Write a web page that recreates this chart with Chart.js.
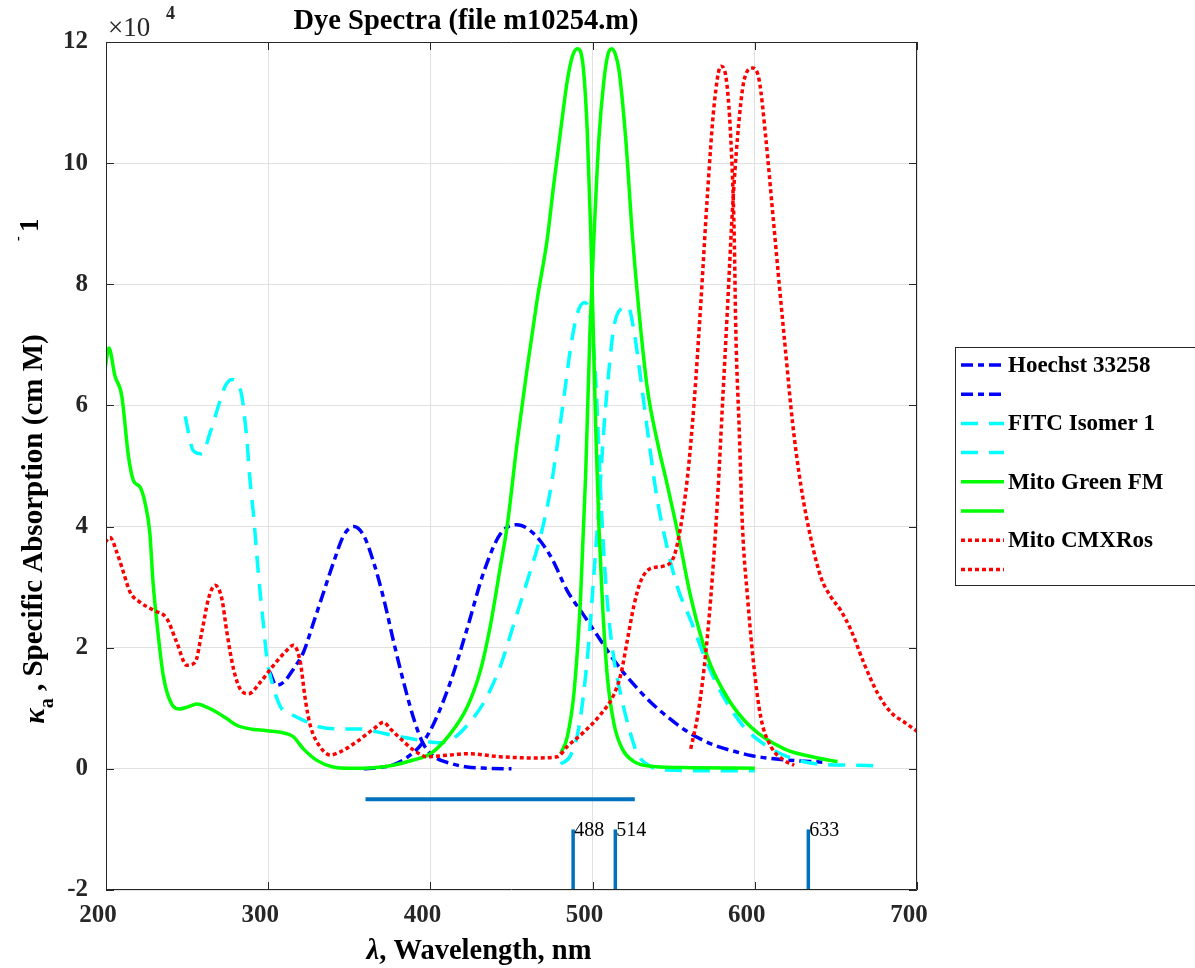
<!DOCTYPE html>
<html>
<head>
<meta charset="utf-8">
<script src="https://cdn.jsdelivr.net/npm/chart.js@4.4.1/dist/chart.umd.min.js"></script>
<style>
html,body{margin:0;padding:0;background:#fff;}
#wrap{position:relative;width:1195px;height:968px;}
canvas{display:block;}
</style>
</head>
<body>
<div id="wrap"><canvas id="c" width="1195" height="968"></canvas></div>
<script>
// ---- Data (wavelength in nm, absorption in units of 1e4 (cm M)^-1) ----
const hoechstAbsWl = [301,305,309.5,315.6,321.8,328,334.2,340.3,346.5,352.7,358.9,365,371.2,377.4,383.5,389.7,394.9,399,404.1,412.3,422.6,435,450];
const hoechstAbsK  = [1.60,1.38,1.43,1.65,1.93,2.42,2.92,3.41,3.85,4.0,3.85,3.41,2.81,2.09,1.43,0.83,0.45,0.28,0.17,0.09,0.03,0.01,0.0];
const hoechstEmWl  = [358.9,368,377.4,387.7,394.9,402.1,412.3,422.6,432.9,443.2,453.5,463.8,474.1,484.4,494.7,505,515.2,525.5,535.8,546.1,556.4,566.7,577,587.3,597.6,618.1,641.8];
const hoechstEmK   = [0.0,0.02,0.07,0.23,0.42,0.75,1.43,2.31,3.25,3.88,4.03,3.88,3.51,2.94,2.53,2.12,1.72,1.39,1.10,0.86,0.65,0.49,0.37,0.29,0.22,0.15,0.11];

const fitcAbsWl = [248.8,253.9,259,264.2,269.3,273.5,277.6,280.7,283.7,286.8,288.9,291,293,295,297.1,299.2,302.3,305.4,308.4,313.6,321.8,332.1,344.4,356.8,367.1,377.4,387.7,397.9,406,414,422.7,433,443.2,451.5,459.7,467.9,474,478.5,482.3,486.4,490.6,495.1,498.8,501.9,503.9,506,509,513.2,517.3,523.5,527.6,535.8,545,570,600];
const fitcAbsK  = [5.82,5.25,5.2,5.55,5.99,6.32,6.43,6.38,6.16,5.45,4.73,4.18,3.52,2.92,2.37,1.82,1.43,1.16,0.99,0.91,0.80,0.69,0.66,0.66,0.61,0.55,0.50,0.45,0.43,0.50,0.72,1.10,1.70,2.40,3.10,3.84,4.60,5.40,6.13,6.94,7.52,7.70,7.43,6.45,5.23,4.0,2.78,1.80,1.23,0.57,0.25,0.04,-0.02,-0.03,-0.03];
const fitcEmWl  = [480.3,486.4,491.6,496.7,500.9,503.9,507,510.1,513.2,517.3,521.8,525.5,529.7,534.8,539.9,546.1,552.3,560.5,570.8,581.1,593.4,607.8,622.2,638.7,659.3,675.7];
const fitcEmK   = [0.08,0.22,0.69,1.81,3.24,4.36,5.63,6.59,7.31,7.59,7.63,7.23,6.43,5.39,4.44,3.64,3.0,2.45,1.73,1.17,0.69,0.37,0.18,0.08,0.06,0.05];

const greenAbsWl = [199.4,201.8,205.5,209.7,213.8,216.9,221,224,227,229,232,235.3,240.5,245.6,250,255.9,262,268,274.4,280.6,288.8,299,311.4,315.5,321.7,330,340,350,365,377,390,400,412,422.7,430.9,437,443.2,447.3,453.5,459.7,465.9,472,476,480.3,484.4,487.5,490.6,493.6,496.7,498.8,500.4,501.9,503.9,506,509,513.2,518.3,525.5,537.9,560,600];
const greenAbsK  = [6.6,6.95,6.49,6.16,5.17,4.76,4.65,4.4,3.9,3.08,2.26,1.54,1.07,0.99,1.02,1.07,1.02,0.94,0.83,0.72,0.66,0.63,0.58,0.53,0.33,0.14,0.03,0.01,0.02,0.06,0.15,0.25,0.57,1.02,1.63,2.37,3.35,4.0,5.39,6.62,7.76,8.74,9.64,10.54,11.36,11.76,11.89,11.72,10.54,8.9,7.27,5.64,4.0,2.78,1.55,0.74,0.33,0.12,0.04,0.02,0.01];
const greenEmWl  = [480.3,484.4,488.5,492.6,495.7,498.4,500.9,503.9,507,509.5,511.8,514,516.3,520.4,524.5,528.6,533.8,540,546.1,553.3,560.5,570.8,583.2,597.6,618.1,638.7,651];
const greenEmK   = [0.25,0.53,1.25,2.84,4.84,7.23,8.82,10.41,11.37,11.8,11.89,11.8,11.53,10.41,8.82,7.55,6.27,5.39,4.68,3.80,2.84,1.85,1.17,0.69,0.33,0.18,0.12];

const rosAbsWl = [199.4,202.5,206.6,210.7,214.8,221,229.2,237.5,243.6,249.8,255,259.1,263.2,267.3,271.4,274.5,278.6,282.7,287.9,295.1,303.3,310.5,315.6,319.8,322.8,325.9,332.1,338.3,344.4,354.7,365,371.2,375.3,381.5,389.7,397.9,412.3,422.6,443.2,463.8,478.2,484.4,494.7,505,513.2,517.3,521.4,525.5,529.7,535.8,544.1,550.2,554.3,558.5,562.6,566.7,570.8,574.9,579.1,582.1,585.2,587.3,588.3,590.4,592.4,595.5,599.6,603.7,609.9,618.1,624.3];
const rosAbsK  = [3.74,3.82,3.58,3.25,2.92,2.75,2.62,2.48,2.09,1.71,1.76,2.26,2.81,3.03,2.81,2.26,1.65,1.32,1.24,1.43,1.71,1.93,2.04,1.76,1.16,0.72,0.36,0.23,0.28,0.45,0.66,0.77,0.66,0.5,0.31,0.20,0.23,0.25,0.20,0.18,0.20,0.37,0.61,0.9,1.23,1.55,2.12,2.70,3.10,3.31,3.35,3.51,4.0,4.82,6.05,7.68,9.48,10.95,11.6,11.44,10.4,8.82,7.23,5.6,4.0,2.84,1.65,0.85,0.37,0.14,0.06];
const rosEmWl  = [560.5,564.6,568.7,572.9,577,580.1,583.2,586.2,589.3,593.4,598.6,602.7,606.8,610.9,615,619.2,623.3,628.4,634.6,640.8,646.9,653.1,659.3,667.5,675.7,684,692.2,700.4,705];
const rosEmK   = [0.33,0.85,1.65,2.84,4.44,6.03,7.63,9.22,10.41,11.37,11.57,11.37,10.41,9.22,8.02,6.83,5.71,4.68,3.80,3.16,2.84,2.61,2.29,1.73,1.25,0.93,0.77,0.61,0.5];

const dyeNames   = ["Hoechst 33258", "FITC Isomer 1", "Mito Green FM", "Mito CMXRos"];
const bandWl     = [360, 526];   // excitation band bar
const bandLevel  = -0.5;
const laserWl    = [488, 514, 633];
const laserRange = [-2, -1];
const xTicks = [200, 300, 400, 500, 600, 700];
const yTicks = [-2, 0, 2, 4, 6, 8, 10, 12];

// ---- Styles ----
const SERIF = '"Liberation Serif", "Times New Roman", serif';
const dyeColors = ["#0000ff", "#00ffff", "#00ff00", "#ff0000"];
const dyeDash   = [[12,5,6,5], [17,11], [], [4,3]];
const LW = 3.5;
const BAR_COLOR = "#0072bd";

function pts(xs, ys){ return xs.map((v,i)=>({x:v, y:ys[i]})); }

const curves = [
  [hoechstAbsWl, hoechstAbsK], [hoechstEmWl, hoechstEmK],
  [fitcAbsWl, fitcAbsK], [fitcEmWl, fitcEmK],
  [greenAbsWl, greenAbsK], [greenEmWl, greenEmK],
  [rosAbsWl, rosAbsK], [rosEmWl, rosEmK]
];
const datasets = curves.map((c, i) => {
  const d = Math.floor(i/2);
  return {
    label: (i % 2 === 0) ? dyeNames[d] : "",
    data: pts(c[0], c[1]),
    borderColor: dyeColors[d],
    borderWidth: LW,
    borderDash: dyeDash[d],
    borderCapStyle: 'butt',
    pointRadius: 0,
    fill: false,
    cubicInterpolationMode: 'monotone',
    legendRow: true
  };
});
datasets.push({
  label: "band", data: pts(bandWl, [bandLevel, bandLevel]),
  borderColor: BAR_COLOR, borderWidth: 4, pointRadius: 0, legendRow: false
});
laserWl.forEach(w => datasets.push({
  label: "laser " + w, data: pts([w, w], laserRange),
  borderColor: BAR_COLOR, borderWidth: 3.5, pointRadius: 0, legendRow: false
}));
const N = datasets.length;
datasets.forEach((d, i) => d.order = N - i);

const deco = {
  id: 'deco',
  afterDraw(chart) {
    const {ctx, chartArea: a, scales: {x, y}} = chart;
    ctx.save();
    // box
    ctx.strokeStyle = '#262626'; ctx.lineWidth = 1;
    ctx.beginPath();
    ctx.moveTo(a.left+0.5, a.bottom-0.5); ctx.lineTo(a.left+0.5, a.top+0.5);
    ctx.lineTo(a.right-0.5, a.top+0.5); ctx.lineTo(a.right-0.5, a.bottom-0.5);
    ctx.lineTo(a.left+0.5, a.bottom-0.5);
    ctx.stroke();
    // inward ticks
    const TL = 8;
    ctx.beginPath();
    xTicks.forEach(v => {
      const px = Math.round(x.getPixelForValue(v)) + 0.5;
      ctx.moveTo(px, a.bottom); ctx.lineTo(px, a.bottom - TL);
      ctx.moveTo(px, a.top); ctx.lineTo(px, a.top + TL);
    });
    yTicks.forEach(v => {
      const py = Math.round(y.getPixelForValue(v)) + 0.5;
      ctx.moveTo(a.left, py); ctx.lineTo(a.left + TL, py);
      ctx.moveTo(a.right, py); ctx.lineTo(a.right - TL, py);
    });
    ctx.stroke();

    ctx.fillStyle = '#000';
    // laser labels
    ctx.font = '20px ' + SERIF;
    ctx.textAlign = 'left'; ctx.textBaseline = 'middle';
    laserWl.forEach(w => {
      ctx.fillText(String(w), x.getPixelForValue(w) + 1, y.getPixelForValue(laserRange[1]) + 1);
    });

    // title
    ctx.fillStyle = '#000';
    ctx.font = 'bold 28.5px ' + SERIF;
    ctx.textAlign = 'center'; ctx.textBaseline = 'alphabetic';
    ctx.fillText('Dye Spectra (file m10254.m)', 466, 29);

    // exponent
    ctx.textAlign = 'left';
    ctx.font = '27px ' + SERIF;
    ctx.fillStyle = '#262626';
    ctx.fillText('\u00d710', 108, 36);
    ctx.font = 'bold 18px ' + SERIF;
    ctx.fillText('4', 166, 19);

    // x-axis title
    ctx.fillStyle = '#000';
    const p1 = '\u03bb', p2 = ', Wavelength, nm';
    ctx.font = 'italic bold 28.5px ' + SERIF;
    const w1 = ctx.measureText(p1).width;
    ctx.font = 'bold 28.5px ' + SERIF;
    const w2 = ctx.measureText(p2).width;
    let sx = 479 - (w1 + w2) / 2;
    ctx.textAlign = 'left'; ctx.textBaseline = 'alphabetic';
    ctx.font = 'italic bold 28.5px ' + SERIF;
    ctx.fillText(p1, sx, 959);
    ctx.font = 'bold 28.5px ' + SERIF;
    ctx.fillText(p2, sx + w1, 959);

    // y-axis title (rotated)
    ctx.save();
    ctx.translate(42, 529);
    ctx.rotate(-Math.PI/2);
    const segs = [
      {t:'\u03ba', f:'italic bold 29px ' + SERIF, dy:2},
      {t:'a', f:'bold 20px ' + SERIF, dy:11},
      {t:' , Specific Absorption (cm M)', f:'bold 29px ' + SERIF, dy:0}
    ];
    let tot = 0;
    segs.forEach(s => { ctx.font = s.f; s.w = ctx.measureText(s.t).width; tot += s.w; });
    let cx = -tot/2;
    ctx.textAlign = 'left'; ctx.textBaseline = 'alphabetic';
    segs.forEach(s => { ctx.font = s.f; ctx.fillText(s.t, cx, s.dy); cx += s.w; });
    ctx.restore();
    // stray exponent of the y title
    ctx.save();
    ctx.translate(38, 225);
    ctx.rotate(-Math.PI/2);
    ctx.textAlign = 'left'; ctx.textBaseline = 'alphabetic';
    ctx.font = 'bold 14px ' + SERIF;
    ctx.fillText('-', -16, -16);
    ctx.font = 'bold 27px ' + SERIF;
    ctx.fillText('1', -7, 0);
    ctx.restore();

    // legend
    const L = {x: 955, y: 347, w: 260, h: 238, row: 29.2, first: 365};
    ctx.fillStyle = '#fff';
    ctx.fillRect(L.x, L.y, L.w, L.h);
    ctx.strokeStyle = '#262626'; ctx.lineWidth = 1;
    ctx.strokeRect(L.x + 0.5, L.y + 0.5, L.w, L.h);
    let r = 0;
    chart.data.datasets.forEach(ds => {
      if (!ds.legendRow) return;
      const yy = L.first + r * L.row;
      ctx.save();
      ctx.strokeStyle = ds.borderColor; ctx.lineWidth = ds.borderWidth;
      ctx.setLineDash(ds.borderDash || []);
      ctx.lineCap = 'butt';
      ctx.beginPath(); ctx.moveTo(961, yy); ctx.lineTo(1004, yy); ctx.stroke();
      ctx.restore();
      if (ds.label) {
        ctx.fillStyle = '#000';
        ctx.font = 'bold 23px ' + SERIF;
        ctx.textAlign = 'left'; ctx.textBaseline = 'middle';
        ctx.fillText(ds.label, 1008, yy + 1);
      }
      r++;
    });
    ctx.restore();
  }
};

new Chart(document.getElementById('c'), {
  type: 'line',
  data: { datasets },
  options: {
    responsive: false,
    animation: false,
    devicePixelRatio: 1,
    layout: { padding: { left: 0, top: 42, right: 278, bottom: 0 } },
    plugins: { legend: { display: false }, tooltip: { enabled: false }, title: { display: false } },
    elements: { line: { tension: 0 } },
    scales: {
      x: {
        type: 'linear', min: 200, max: 700,
        afterBuildTicks: s => { s.ticks = xTicks.map(v => ({value: v})); },
        afterFit: s => { s.height = 78; },
        grid: { color: '#e1e1e1', drawTicks: false, lineWidth: 1 },
        border: { display: false },
        ticks: { font: { family: SERIF, size: 25, weight: 'bold' }, color: '#262626', padding: 11, labelOffset: -8, maxRotation: 0 }
      },
      y: {
        type: 'linear', min: -2, max: 12,
        afterBuildTicks: s => { s.ticks = yTicks.map(v => ({value: v})); },
        afterFit: s => { s.width = 106; },
        grid: { color: '#e1e1e1', drawTicks: false, lineWidth: 1 },
        border: { display: false },
        ticks: { font: { family: SERIF, size: 25, weight: 'bold' }, color: '#262626', padding: 18 }
      }
    }
  },
  plugins: [deco]
});
</script>
</body>
</html>
